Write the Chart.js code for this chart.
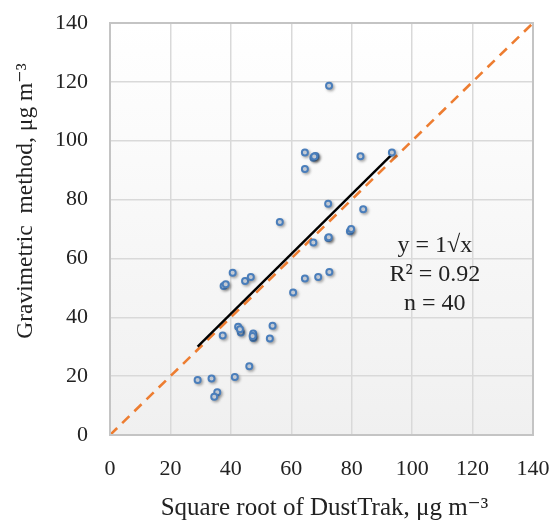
<!DOCTYPE html>
<html>
<head>
<meta charset="utf-8">
<script src="https://cdn.jsdelivr.net/npm/chart.js@4"></script>
<style>
  html, body { margin: 0; padding: 0; background: #fff; }
  #wrap { width: 553px; height: 521px; }
</style>
</head>
<body>
<div id="wrap"><canvas id="chart" width="553" height="521"></canvas></div>
<script>
// ==================== DATOS ====================
const dustTrakSqrt = [72.5, 64.5, 67.3, 68.0, 82.9, 93.3, 64.5, 72.2, 83.8, 56.2,
                      79.4, 79.8, 67.3, 72.2, 72.6, 68.9, 64.5, 60.6, 40.6, 37.6,
                      38.3, 44.7, 46.6, 53.8, 42.4, 43.3, 37.3, 47.4, 47.4, 52.9,
                      46.1, 41.3, 33.6, 29.0, 35.5, 34.5, 67.6, 43.0, 47.2, 72.4];
const gravimetric  = [118.7, 96.0, 94.2, 94.8, 94.7, 96.0, 90.4, 78.6, 76.7, 72.4,
                      69.2, 70.0, 65.4, 66.9, 55.4, 53.7, 53.2, 48.4, 55.1, 50.6,
                      51.2, 52.3, 53.7, 37.1, 36.8, 34.8, 33.8, 34.5, 33.0, 32.8,
                      23.4, 19.7, 19.2, 18.7, 14.5, 13.0, 94.6, 35.9, 33.6, 67.2];
const trendX     = [29, 93];
const trendY     = [30, 95];
const oneToOneX  = [0, 140];
const oneToOneY  = [0, 140];
const axisTicks  = [0, 20, 40, 60, 80, 100, 120, 140];
const statsLines = ['y = 1\u221Ax', 'R\u00B2 = 0.92', 'n = 40'];
const tituloX    = 'Square root of DustTrak, \u03BCg m\u207B\u00B3';
const tituloY    = 'Gravimetric  method, \u03BCg m\u207B\u00B3';

const serif = '"Liberation Serif", "DejaVu Serif", serif';

const toPoints = (xs, ys) => xs.map((x, i) => ({ x, y: ys[i] }));

// ==================== PLUGINS ====================
const fondoArea = {
    id: 'fondoArea',
    beforeDraw(chart) {
        const { ctx, chartArea: a } = chart;
        const g = ctx.createLinearGradient(0, a.top, 0, a.bottom);
        g.addColorStop(0, '#ffffff');
        g.addColorStop(1, '#f0f0f0');
        ctx.save();
        ctx.fillStyle = g;
        ctx.fillRect(a.left, a.top, a.right - a.left, a.bottom - a.top);
        ctx.restore();
    },
    afterDatasetsDraw(chart) {
        const { ctx, chartArea: a } = chart;
        ctx.save();
        ctx.strokeStyle = '#c4c4c4';
        ctx.lineWidth = 2;
        ctx.strokeRect(a.left, a.top, a.right - a.left, a.bottom - a.top);
        ctx.restore();
    }
};

const sombraPuntos = {
    id: 'sombraPuntos',
    beforeDatasetDraw(chart, args) {
        if (args.index !== 0) return;
        const ctx = chart.ctx;
        ctx.save();
        ctx.shadowColor = 'rgba(0,0,0,0.28)';
        ctx.shadowBlur = 3;
        ctx.shadowOffsetX = 1.5;
        ctx.shadowOffsetY = 1.5;
    },
    afterDatasetDraw(chart, args) {
        if (args.index !== 0) return;
        chart.ctx.restore();
    }
};

const textos = {
    id: 'textos',
    afterDraw(chart) {
        const { ctx, chartArea: a, scales: { x, y } } = chart;
        ctx.save();
        ctx.fillStyle = '#222';
        ctx.textAlign = 'center';
        ctx.textBaseline = 'middle';

        ctx.font = '24px ' + serif;
        const cx = x.getPixelForValue(107.5);
        const y0 = y.getPixelForValue(64.2);
        statsLines.forEach((t, i) => ctx.fillText(t, cx, y0 + i * 29));

        ctx.font = '25px ' + serif;
        ctx.fillText(tituloX, (a.left + a.right) / 2 + 3, 508);

        ctx.font = '23.5px ' + serif;
        ctx.translate(26, 201);
        ctx.rotate(-Math.PI / 2);
        ctx.fillText(tituloY, 0, 0);
        ctx.restore();
    }
};

// ==================== GRÁFICO ====================
const ctx = document.getElementById('chart').getContext('2d');
new Chart(ctx, {
    type: 'scatter',
    data: {
        datasets: [
            {
                label: 'Muestras',
                data: toPoints(dustTrakSqrt, gravimetric),
                pointRadius: 3,
                pointBorderWidth: 2,
                borderColor: '#4a7ebb',
                backgroundColor: '#e6edf7',
                order: 0
            },
            {
                label: 'Tendencia',
                type: 'line',
                data: toPoints(trendX, trendY),
                borderColor: '#000000',
                borderWidth: 2.4,
                pointRadius: 0,
                order: 1
            },
            {
                label: '1:1',
                type: 'line',
                data: toPoints(oneToOneX, oneToOneY),
                borderColor: '#ed7d31',
                borderWidth: 2.6,
                borderDash: [10, 7],
                pointRadius: 0,
                order: 2
            }
        ]
    },
    options: {
        responsive: false,
        animation: false,
        layout: { padding: { top: 23, right: 20, bottom: 0, left: 0 } },
        plugins: {
            legend: { display: false },
            tooltip: { enabled: false }
        },
        scales: {
            x: {
                type: 'linear',
                min: 0, max: 140,
                afterBuildTicks: s => { s.ticks = axisTicks.map(v => ({ value: v })); },
                afterFit: s => { s.height = 86; s.paddingLeft = 0; s.paddingRight = 0; },
                grid: { color: '#d9d9d9', lineWidth: 1.5, drawTicks: false },
                border: { display: false },
                ticks: { padding: 21, color: '#222', font: { family: serif, size: 22 } },
                title: { display: false }
            },
            y: {
                type: 'linear',
                min: 0, max: 140,
                afterBuildTicks: s => { s.ticks = axisTicks.map(v => ({ value: v })); },
                afterFit: s => { s.width = 110; s.paddingTop = 0; s.paddingBottom = 0; },
                grid: { color: '#d9d9d9', lineWidth: 1.5, drawTicks: false },
                border: { display: false },
                ticks: { padding: 22, color: '#222', font: { family: serif, size: 22 } },
                title: { display: false }
            }
        }
    },
    plugins: [fondoArea, sombraPuntos, textos]
});
</script>
</body>
</html>
